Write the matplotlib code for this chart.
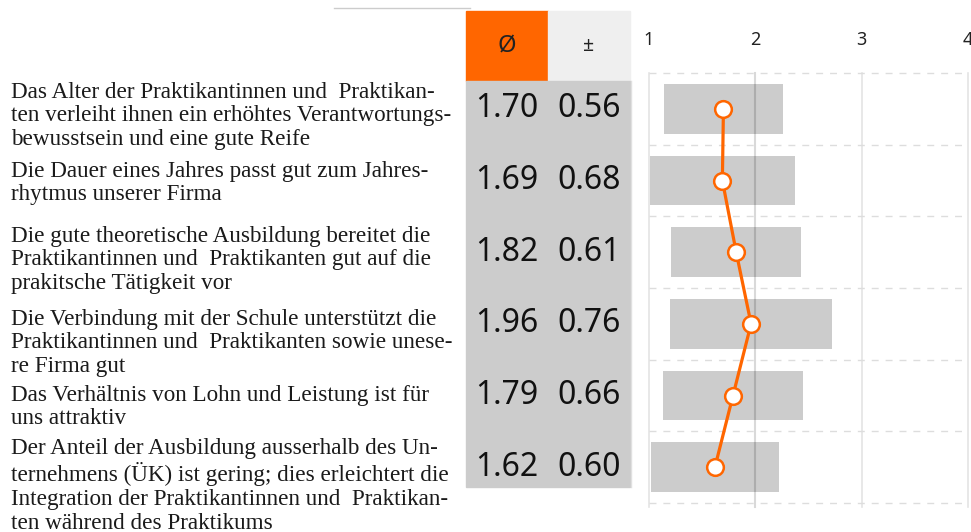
import matplotlib
matplotlib.use('Agg')
import matplotlib.pyplot as plt
from matplotlib.patches import Rectangle

# data
labels = [
    "Das Alter der Praktikantinnen und  Praktikan-\nten verleiht ihnen ein erhöhtes Verantwortungs-\nbewusstsein und eine gute Reife",
    "Die Dauer eines Jahres passt gut zum Jahres-\nrhytmus unserer Firma",
    "Die gute theoretische Ausbildung bereitet die\nPraktikantinnen und  Praktikanten gut auf die\nprakitsche Tätigkeit vor",
    "Die Verbindung mit der Schule unterstützt die\nPraktikantinnen und  Praktikanten sowie unese-\nre Firma gut",
    "Das Verhältnis von Lohn und Leistung ist für\nuns attraktiv",
    "Der Anteil der Ausbildung ausserhalb des Un-\nternehmens (ÜK) ist gering; dies erleichtert die\nIntegration der Praktikantinnen und  Praktikan-\nten während des Praktikums",
]
means = [1.70, 1.69, 1.82, 1.96, 1.79, 1.62]
sds = [0.56, 0.68, 0.61, 0.76, 0.66, 0.60]
ticks = [1, 2, 3, 4]

W, H = 971, 532
ORANGE = "#ff6600"

def fx(px):
    return px / W

def fy(py):
    return 1 - py / H

fig = plt.figure(figsize=(W / 100, H / 100), dpi=100)

# chart axes: x 649..968 px, y 73..503 px
ax = fig.add_axes([fx(649), fy(503), fx(968) - fx(649), fy(73) - fy(503)])
n = len(means)
rows = list(range(n))
ax.set_xlim(1, 4)
ax.set_ylim(n - 0.5, -0.5)
for s in ax.spines.values():
    s.set_visible(False)
ax.xaxis.tick_top()
ax.set_xticks(ticks)
ax.set_xticklabels([str(t) for t in ticks], fontsize=13, color="#222222",
                   family="Noto Sans")
ax.tick_params(axis="x", length=0, pad=17)
ax.set_yticks([])

for t in ticks:
    if t != 2:
        ax.axvline(t, ymin=-0.01, ymax=1, color="#e4e4e4", lw=1.2, zorder=1, clip_on=False)
for b in range(n + 1):
    ax.axhline(b - 0.5, color="#dddddd", lw=1, ls=(0, (5, 5)), zorder=1, clip_on=False)

lefts = [m - s for m, s in zip(means, sds)]
widths = [2 * s for s in sds]
ax.barh(rows, widths, left=lefts, height=0.69, color="#cccccc", zorder=2)
ax.axvline(2, ymin=-0.01, ymax=1, color="black", alpha=0.15, lw=1.5, zorder=3, clip_on=False)
ax.plot(means, rows, color=ORANGE, lw=2.3, zorder=4,
        marker="o", markersize=12, markerfacecolor="white",
        markeredgecolor=ORANGE, markeredgewidth=1.8)

# table axes: x 466..630 px, same rows as chart
axt = fig.add_axes([fx(466), fy(503), fx(630) - fx(466), fy(73) - fy(503)], sharey=ax)
axt.set_xlim(0, 2)
axt.axis("off")
row_px = (503 - 73) / n

def prow(py):
    return (py - 73) / row_px - 0.5

axt.add_patch(Rectangle((0, prow(11)), 1, prow(81) - prow(11), color=ORANGE, clip_on=False))
axt.add_patch(Rectangle((1, prow(11)), 1, prow(81) - prow(11), color="#efefef", clip_on=False))
axt.add_patch(Rectangle((0, prow(81)), 2, prow(487) - prow(81), color="#cccccc", clip_on=False))
axt.text(0.5, (prow(11) + prow(81)) / 2, "Ø", ha="center", va="center",
         fontsize=17, color="#222222", family="Noto Sans")
axt.text(1.5, (prow(11) + prow(81)) / 2, "±", ha="center", va="center",
         fontsize=14, color="#222222", family="Noto Sans")
for r, m, s in zip(rows, means, sds):
    axt.text(0.5, r, f"{m:.2f}", ha="center", va="center", fontsize=23,
             color="#111111", family="Noto Sans")
    axt.text(1.5, r, f"{s:.2f}", ha="center", va="center", fontsize=23,
             color="#111111", family="Noto Sans")

# thin lines around table
fig.add_artist(plt.Line2D([fx(334), fx(470)], [fy(8), fy(8)], color="#cccccc", lw=1))
fig.add_artist(plt.Line2D([fx(631), fx(631)], [fy(81), fy(487)], color="#e0e0e0", lw=1))

# statement labels
label_centers = [116, 183, 260, 343, 407, 486]
for lab, cy in zip(labels, label_centers):
    fig.text(fx(11), fy(cy), lab, ha="left", va="center", fontsize=16.7,
             family="Liberation Serif", color="#1a1a1a", linespacing=1.17)

fig.savefig("out.png", dpi=100)
